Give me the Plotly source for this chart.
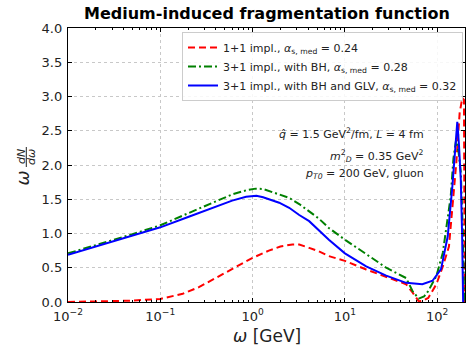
import plotly.graph_objects as go

# omega [GeV] sample points and omega dN/domega for each implementation
w_11 = [0.01, 0.02, 0.05, 0.1, 0.175, 0.265, 0.37, 0.6, 1.0, 1.5, 2.0, 2.7, 3.2, 4.1, 5.2, 6.7,
        10, 17, 28, 46, 54, 63, 70, 80, 98, 115, 134, 146, 161, 175, 187, 195, 198.5]
f_11 = [0.0, 0.005, 0.02, 0.045, 0.12, 0.22, 0.33, 0.48, 0.645, 0.75, 0.81, 0.84, 0.84, 0.79, 0.74, 0.67,
        0.60, 0.475, 0.365, 0.26, 0.14, 0.01, 0.02, 0.06, 0.26, 0.52, 0.81, 1.40, 2.03, 2.76, 2.98, 2.95, 0.0]

w_bh = [0.01, 0.02, 0.05, 0.1, 0.2, 0.37, 0.6, 0.85, 1.08, 1.3, 1.94, 2.49, 3.2, 4.1, 5.2, 6.7,
        10, 17, 28, 46, 54, 63, 72, 80, 98, 115, 122, 136, 140, 150, 160, 170, 180, 190, 196]
f_bh = [0.71, 0.83, 0.99, 1.12, 1.30, 1.45, 1.57, 1.63, 1.655, 1.65, 1.57, 1.52, 1.43, 1.325, 1.22, 1.08,
        0.91, 0.70, 0.50, 0.35, 0.16, 0.05, 0.08, 0.16, 0.38, 0.72, 0.96, 1.35, 1.54, 2.10, 2.36, 2.20, 1.90, 1.00, 0.0]

w_glv = [0.01, 0.02, 0.05, 0.1, 0.2, 0.37, 0.6, 0.85, 1.0, 1.1, 1.3, 1.94, 2.49, 3.2, 4.1, 5.2, 6.7,
         10, 17, 28, 46, 69, 89, 110, 130, 146, 155, 165, 172, 180, 186, 191]
f_glv = [0.69, 0.81, 0.97, 1.09, 1.24, 1.37, 1.48, 1.535, 1.55, 1.55, 1.53, 1.45, 1.375, 1.27, 1.18, 1.05, 0.91,
         0.71, 0.52, 0.385, 0.28, 0.26, 0.31, 0.48, 0.96, 1.69, 2.20, 2.63, 2.30, 1.79, 1.00, 0.0]

labels = [
    "1+1 impl., <i>α</i><sub>s, med</sub> = 0.24",
    "3+1 impl., with BH, <i>α</i><sub>s, med</sub> = 0.28",
    "3+1 impl., with BH and GLV, <i>α</i><sub>s, med</sub> = 0.32",
]

x_ticks = [0.01, 0.1, 1, 10, 100]
x_ticklabels = ["10<sup>−2</sup>", "10<sup>−1</sup>", "10<sup>0</sup>", "10<sup>1</sup>", "10<sup>2</sup>"]
y_ticks = [0.0, 0.5, 1.0, 1.5, 2.0, 2.5, 3.0, 3.5, 4.0]

W, H = 467, 346
ML, MR, MT, MB = 68, 2, 28, 44
PW, PH = W - ML - MR, H - MT - MB


def px(x):
    return (x - ML) / PW


def py(y):
    return (H - MB - y) / PH


fig = go.Figure()
fig.add_trace(go.Scatter(x=w_11, y=f_11, mode="lines", name=labels[0],
                         line=dict(color="#ff0000", width=2, dash="7px,4px")))
fig.add_trace(go.Scatter(x=w_bh, y=f_bh, mode="lines", name=labels[1],
                         line=dict(color="#008000", width=2, dash="8px,3px,2px,3px")))
fig.add_trace(go.Scatter(x=w_glv, y=f_glv, mode="lines", name=labels[2],
                         line=dict(color="#0000ff", width=2)))

font = "DejaVu Sans"
axis_common = dict(
    showline=True, linecolor="black", linewidth=1.3, mirror="allticks",
    ticks="inside", ticklen=4, tickwidth=1, tickcolor="black",
    showgrid=True, gridcolor="#c8c8c8", gridwidth=0.8, griddash="dot",
    zeroline=False, tickfont=dict(family=font, size=13, color="#222"),
)

fig.update_xaxes(type="log", range=[-2, 2.30103], tickvals=x_ticks, ticktext=x_ticklabels,
                 ticklabelstandoff=2,
                 minor=dict(ticks="inside", ticklen=2, tickcolor="black", dtick="D1", showgrid=False),
                 **axis_common)
fig.update_yaxes(range=[0, 4.0], tickvals=y_ticks, tickformat=".1f", ticklabelstandoff=2, **axis_common)

ann = [
    dict(text="<b>Medium-induced fragmentation function</b>", x=px(266.5), y=py(14),
         font=dict(size=16, family=font, color="black")),
    dict(text="<i>ω</i> [GeV]", x=px(266.5), y=py(336), font=dict(size=17, family=font, color="#222")),
    dict(text="<i>ω</i>", x=px(21.5), y=py(178), textangle=-90, font=dict(size=18, family=font, color="#222")),
    dict(text="<i>dN</i>", x=px(21), y=py(157), textangle=-90, font=dict(size=11, family=font, color="#222")),
    dict(text="<i>dω</i>", x=px(31), y=py(157), textangle=-90, font=dict(size=11, family=font, color="#222")),
    dict(text="<i>q\u0302</i> = 1.5 GeV<sup>2</sup>/fm, <i>L</i> = 4 fm", x=px(426), y=py(133), xanchor="right",
         font=dict(size=11, family=font, color="#222")),
    dict(text="<i>m</i><sup>2</sup><sub><i>D</i></sub> = 0.35 GeV<sup>2</sup>", x=px(426), y=py(156), xanchor="right",
         font=dict(size=11, family=font, color="#222")),
    dict(text="<i>p</i><sub><i>T0</i></sub> = 200 GeV, gluon", x=px(426), y=py(174), xanchor="right",
         font=dict(size=11, family=font, color="#222")),
]
for a in ann:
    a.setdefault("xanchor", "center")
    fig.add_annotation(xref="paper", yref="paper", yanchor="middle", showarrow=False, **a)

# fraction bar of the y-axis label
fig.add_shape(type="line", xref="paper", yref="paper", x0=px(26.3), x1=px(26.3), y0=py(147), y1=py(167),
              line=dict(color="#222", width=1))

fig.update_layout(
    width=W, height=H, margin=dict(l=ML, r=MR, t=MT, b=MB),
    plot_bgcolor="white", paper_bgcolor="white",
    legend=dict(x=px(463), y=py(32), xanchor="right", yanchor="top",
                bgcolor="rgba(255,255,255,0.85)", bordercolor="#cccccc", borderwidth=1,
                font=dict(family=font, size=11, color="#222"), tracegroupgap=0),
    showlegend=True,
)

fig.write_html("out.html")
